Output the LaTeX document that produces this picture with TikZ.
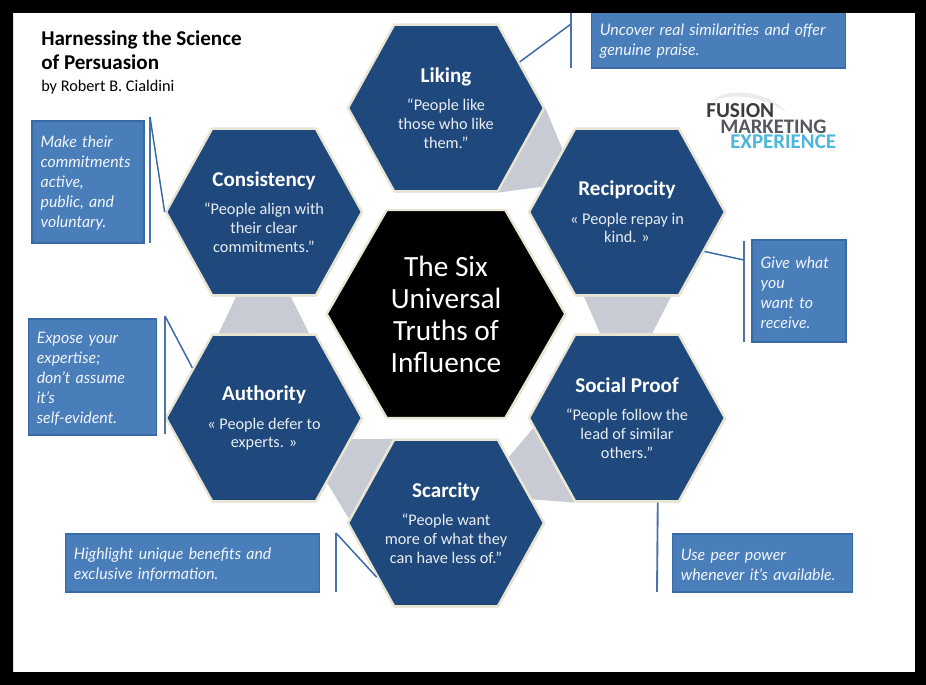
\documentclass[tikz,border=0pt]{standalone}
\usepackage{xcolor}
\usepackage{fontspec}
\setmainfont{Carlito}
\newfontfamily\notefont{Lato}
\usepackage{tikz}
\usetikzlibrary{shapes.symbols,shadows,backgrounds,calc}
\definecolor{hexblue}{HTML}{1F497D}
\definecolor{hexcream}{HTML}{E9E5D3}
\definecolor{noteblue}{HTML}{4A7EBB}
\definecolor{noteedge}{HTML}{3A6AA5}
\definecolor{barblue}{HTML}{4A74A8}
\definecolor{linkgray}{HTML}{C9CBD4}
\definecolor{logodark}{HTML}{3C3C40}
\definecolor{logomid}{HTML}{55585F}
\definecolor{logocyan}{HTML}{4DB6DC}
\newcommand{\hexhead}{\bfseries\fontsize{15.8}{15.8}\selectfont\color{white}}

\begin{document}
\begin{tikzpicture}[
  x=0.75pt, y=-0.75pt,
  hexbox/.style={signal, signal to=east and west, signal pointer angle=122,
                 draw=hexcream, line width=1.8pt, fill=hexblue, minimum width=147pt,
                 minimum height=125pt, inner sep=0pt,
                 drop shadow={shadow xshift=0.6pt, shadow yshift=-0.8pt, fill=black!45, opacity=0.5}},
  hextext/.style={align=center, inner sep=0pt, text=white!90!hexblue, font=\fontsize{12.2}{14}\selectfont},
  notebox/.style={rectangle, draw=noteedge, line width=0.9pt, fill=noteblue, align=left,
                  inner xsep=6.5pt, inner ysep=0pt, text=white!92!noteblue,
                  font=\notefont\itshape\fontsize{11.9}{15}\selectfont,
                  execute at begin node={\rule{0pt}{11pt}}},
  bar/.style={barblue, line width=1.4pt},
  leader/.style={noteedge, line width=1.1pt},
  link/.style={fill=linkgray},
  logoword/.style={anchor=west, inner sep=0pt, font=\bfseries\fontsize{#1}{#1}\selectfont}
]
  \useasboundingbox (0,0) rectangle (926,685);

  \node[hexbox, label={[hextext]center:{{\hexhead Liking}\\[7.5pt]“People like\\those who like\\them.”}}] (liking) at (446,108) {};
  \node[hexbox, label={[hextext]center:{{\hexhead Reciprocity}\\[7.5pt]« People repay in\\kind. »}}] (recip) at (627,212) {};
  \node[hexbox, label={[hextext]center:{{\hexhead Social Proof}\\[7.5pt]“People follow the\\lead of similar\\others.”}}] (social) at (627,418) {};
  \node[hexbox, label={[hextext]center:{{\hexhead Scarcity}\\[7.5pt]“People want\\more of what they\\can have less of.”}}] (scarce) at (446,523) {};
  \node[hexbox, label={[hextext]center:{{\hexhead Authority}\\[7.5pt]« People defer to\\experts. »}}] (author) at (264,418) {};
  \node[hexbox, label={[hextext]center:{{\hexhead Consistency}\\[7.5pt]“People align with\\their clear\\commitments.”}}] (consist) at (264,212) {};
  \node[hexbox, fill=black, text=white, minimum width=179pt, minimum height=156pt,
        signal pointer angle=120, align=center, font=\fontsize{22}{24}\selectfont] (truths) at (446,314)
        {The Six\\Universal\\Truths of\\Influence};

  \begin{pgfonlayer}{background}
    \fill[white] (13,13) rectangle (915,672);
    \fill[link] (liking.east) -- ($(recip.north west)!.25!(recip.west)$)
                -- ($(recip.north west)!.7!(recip.west)$) -- (liking.south east) -- cycle;
    \fill[link] ($(recip.south west)!.09!(recip.south east)$) -- ($(recip.south west)!.92!(recip.south east)$)
                -- ($(social.north west)!.74!(social.north east)$) -- ($(social.north west)!.25!(social.north east)$) -- cycle;
    \fill[link] ($(social.west)!.12!(social.south west)$) -- ($(scarce.north east)!.22!(scarce.east)$)
                -- ($(scarce.north east)!.72!(scarce.east)$) -- (social.south west) -- cycle;
    \fill[link] ($(author.east)!.25!(author.south east)$) -- (scarce.north west)
                -- ($(scarce.north west)!.95!(scarce.west)$) -- ($(author.east)!.77!(author.south east)$) -- cycle;
    \fill[link] ($(consist.south west)!.235!(consist.south east)$) -- ($(consist.south west)!.755!(consist.south east)$)
                -- ($(author.north west)!.93!(author.north east)$) -- ($(author.north west)!.07!(author.north east)$) -- cycle;
  \end{pgfonlayer}

  \node[notebox, text width=178pt, minimum height=42pt]   (noteliking)  at (718.5,40)  {Uncover real similarities and offer\\genuine praise.};
  \node[notebox, text width=57.5pt, minimum height=76.5pt] (noterecip)   at (799,291)   {Give what\\you\\want to\\receive.};
  \node[notebox, text width=122.5pt, minimum height=43.5pt] (notesocial) at (762.5,563) {Use peer power\\whenever it’s available.};
  \node[notebox, text width=178pt, minimum height=43.5pt] (notescarce)  at (192.5,563) {Highlight unique benefits and\\exclusive information.};
  \node[notebox, text width=83.5pt, minimum height=87pt]  (noteauthor)  at (92.5,377)  {Expose your\\expertise;\\don’t assume\\it’s\\self-evident.};
  \node[notebox, text width=71pt, minimum height=91.5pt]  (noteconsist) at (88,182)    {Make their\\commitments\\active,\\public, and\\voluntary.};

  \coordinate (barlikingtop)  at (571,12);
  \coordinate (barlikingbot)  at (571,68);
  \coordinate (barlikingjoin) at (571,24);
  \coordinate (barreciptop)   at (744,241);
  \coordinate (barrecipbot)   at (744,342);
  \coordinate (barrecipjoin)  at (744,260);
  \coordinate (barsocialbot)  at (657,592);
  \coordinate (barscarcetop)  at (336,533);
  \coordinate (barscarcebot)  at (336,592);
  \coordinate (barauthortop)  at (165,316);
  \coordinate (barauthorbot)  at (165,434);
  \coordinate (barconsisttop) at (150,117);
  \coordinate (barconsistbot) at (150,243);

  \draw[bar] (barlikingtop)  -- (barlikingbot);
  \draw[bar] (barreciptop)   -- (barrecipbot);
  \draw[bar] (social.-70)    -- (barsocialbot);
  \draw[bar] (barscarcetop)  -- (barscarcebot);
  \draw[bar] (barauthortop)  -- (barauthorbot);
  \draw[bar] (barconsisttop) -- (barconsistbot);

  \draw[leader] (barlikingjoin) -- (liking.32);
  \draw[leader] (barrecipjoin)  -- (recip.-27);
  \draw[leader] (barscarcetop)  -- (scarce.218);
  \draw[leader] (barauthortop)  -- (author.145);
  \draw[leader] (barconsisttop) -- (consist.west);

  \node[anchor=north west, inner sep=0pt, align=left, font=\bfseries\fontsize{15.8}{18.4}\selectfont] (title) at (41,30)
        {Harnessing the Science\\of Persuasion};
  \node[anchor=north west, inner sep=0pt, font=\fontsize{12.2}{14}\selectfont] (byline) at (41,80) {by Robert B. Cialdini};

  \fill[black!8] (712,102) .. controls (722,88) and (765,88) .. (786,112) .. controls (762,96) and (730,92) .. (712,102) -- cycle;
  \node[logoword=16, logodark] (logofusion) at (706,111) {FUSION};
  \node[logoword=15.5, logomid] (logomarket) at (720,127) {MARKETING};
  \node[logoword=15.7, logocyan] (logoexper) at (730,142) {EXPERIENCE};

  \fill[black, even odd rule] (0,0) rectangle (926,685) (13,13) rectangle (915,672);
\end{tikzpicture}
\end{document}
